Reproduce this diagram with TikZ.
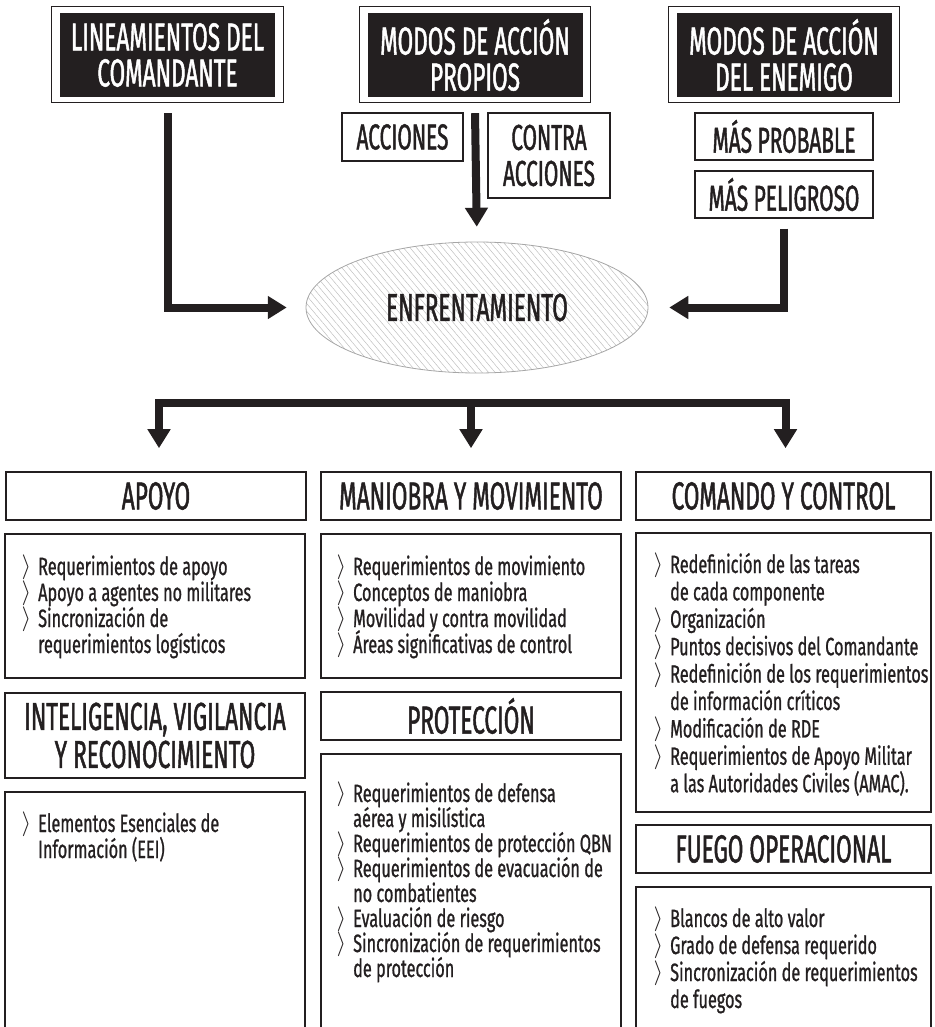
\documentclass[tikz,border=0pt]{standalone}
\usepackage{fontspec}
\setmainfont{Fira Sans}
\newfontfamily\capfont[FakeStretch=0.58,FakeBold=1.2]{Fira Sans}
\newfontfamily\txtfont[FakeStretch=0.65,FakeBold=0.9]{Fira Sans}
\usetikzlibrary{arrows.meta,patterns.meta,shapes.geometric}
\definecolor{ink}{HTML}{231F20}
\newcommand\bodylines[5]{%
  \foreach \lb/\ltext [count=\i] in {#5}{%
    \node[bodytext, anchor=base west] (#1\i) at (#2, {#3+(\i-1)*#4}) {\ifnum\lb=1 \llap{\raisebox{1.5pt}{$\rangle$}\hspace{7pt}}\fi\ltext};
  }}
\begin{document}
\begin{tikzpicture}[x=1pt,y=-1pt,
  topbox/.style={fill=ink,text=white,minimum width=215pt,minimum height=84pt,inner sep=0pt,align=center,font=\capfont\fontsize{39}{36}\selectfont},
  frame/.style={draw=ink,line width=1.2pt},
  smallbox/.style={draw=ink,line width=1.4pt,inner sep=0pt,align=center,text=ink,font=\capfont\fontsize{36}{36}\selectfont},
  hdr/.style={draw=ink,line width=1.6pt,minimum width=300pt,minimum height=48pt,inner sep=0pt,align=center,text=ink,font=\capfont\fontsize{39}{38}\selectfont},
  bodybox/.style={draw=ink,line width=1.6pt,minimum width=300pt,inner sep=0pt},
  bodytext/.style={inner sep=0pt,text=ink,font=\txtfont\fontsize{25}{26}\selectfont},
  arr/.style={draw=ink,line width=8pt,-{Triangle[width=22pt,length=19pt]}}]
\useasboundingbox (0,0) rectangle (934,1027);

% top boxes
\node[topbox] (lin) at (167.5,55) {LINEAMIENTOS DEL\\COMANDANTE};
\node[topbox] (own) at (475,55) {MODOS DE ACCIÓN\\PROPIOS};
\node[topbox] (ene) at (784,55) {MODOS DE ACCIÓN\\DEL ENEMIGO};
\foreach \n in {lin,own,ene}{
  \draw[frame] ([shift={(-8,-6)}]\n.north west) rectangle ([shift={(8,5)}]\n.south east);
}

% small boxes
\node[smallbox,minimum width=121pt,minimum height=48pt] (acc) at (402.5,137) {ACCIONES};
\node[smallbox,minimum width=122pt,minimum height=85pt] (cacc) at (549,155.5) {CONTRA\\ACCIONES};
\node[smallbox,minimum width=178pt,minimum height=47pt] (prob) at (784,136.5) {MÁS PROBABLE};
\node[smallbox,minimum width=178pt,minimum height=47pt] (peli) at (784,194.5) {MÁS PELIGROSO};

% ellipse
\node[ellipse,draw=gray!70,line width=0.8pt,
  pattern={Lines[angle=-50,distance=5pt,line width=0.5pt]},pattern color=gray!50,
  minimum width=342pt,minimum height=131pt,inner sep=0pt,text=ink,
  font=\capfont\fontsize{39}{38}\selectfont] (enf) at (477,307.5) {ENFRENTAMIENTO};

% connectors into ellipse
\draw[arr,shorten >=19pt] ([yshift=-16pt]lin.south) |- (enf.west);
\draw[arr,shorten >=15pt] ([yshift=-16pt]own.south) -- (enf.north);
\draw[arr,shorten >=21pt] ([yshift=-10pt]peli.south) |- (enf.east);

% headers
\node[hdr] (apo) at (156,496) {APOYO};
\node[hdr] (man) at (471,496) {MANIOBRA Y MOVIMIENTO};
\node[hdr,minimum width=295pt] (com) at (783.5,496) {COMANDO Y CONTROL};
\node[hdr,minimum height=85pt] (intel) at (155,735.5) {INTELIGENCIA, VIGILANCIA\\Y RECONOCIMIENTO};
\node[hdr] (prot) at (471,716) {PROTECCIÓN};
\node[hdr,minimum width=295pt] (fue) at (783.5,849) {FUEGO OPERACIONAL};

% distributor
\coordinate (bus) at (472,403);
\draw[arr,shorten >=23pt] (man.north |- bus) -| ([xshift=3pt]apo.north);
\draw[arr,shorten >=23pt] (man.north |- bus) -| ([xshift=2pt]com.north);
\draw[arr,shorten >=23pt] (man.north |- bus) -- (man.north);

% body boxes
\node[bodybox,minimum height=144pt] (apob) at (155,606) {};
\node[bodybox,minimum height=144pt] (manb) at (471,606) {};
\node[bodybox,minimum width=295pt,minimum height=279pt] (comb) at (783.5,672.5) {};
\node[bodybox,minimum height=248pt] (intelb) at (155,916) {};
\node[bodybox,minimum height=286pt] (protb) at (471,897) {};
\node[bodybox,minimum width=295pt,minimum height=153pt] (fueb) at (783.5,963.5) {};

% body texts
\bodylines{ap}{38}{575}{26}{1/Requerimientos de apoyo,1/Apoyo a agentes no militares,1/Sincronización de,0/requerimientos logísticos}
\bodylines{mn}{353}{575}{26}{1/Requerimientos de movimiento,1/Conceptos de maniobra,1/Movilidad y contra movilidad,1/Áreas significativas de control}
\bodylines{cm}{670}{573}{27.4}{1/Redefinición de las tareas,0/de cada componente,1/Organización,1/Puntos decisivos del Comandante,1/Redefinición de los requerimientos,0/de información críticos,1/Modificación de RDE,1/Requerimientos de Apoyo Militar,0/a las Autoridades Civiles (AMAC).}
\bodylines{in}{38}{832}{26}{1/Elementos Esenciales de,0/Información (EEI)}
\bodylines{pr}{353}{802}{25}{1/Requerimientos de defensa,0/aérea y misilística,1/Requerimientos de protección QBN,1/Requerimientos de evacuación de,0/no combatientes,1/Evaluación de riesgo,1/Sincronización de requerimientos,0/de protección}
\bodylines{fu}{670}{927}{27}{1/Blancos de alto valor,1/Grado de defensa requerido,1/Sincronización de requerimientos,0/de fuegos}
\end{tikzpicture}
\end{document}
